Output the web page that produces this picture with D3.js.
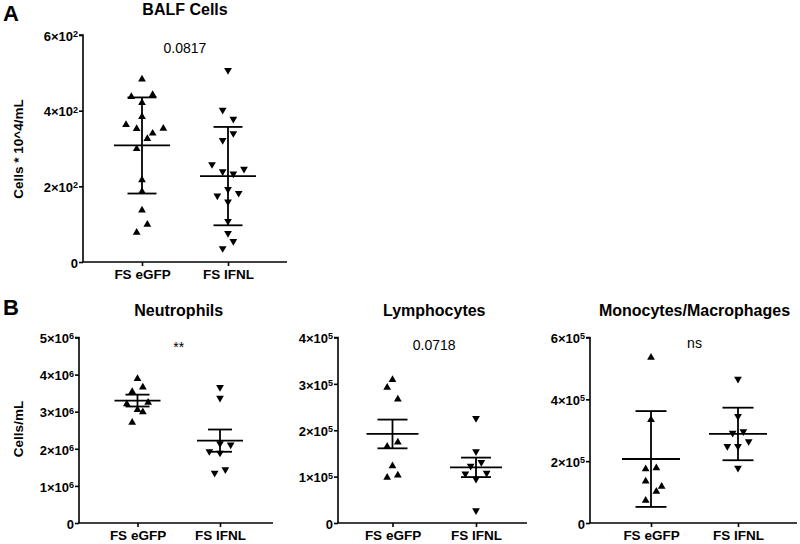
<!DOCTYPE html>
<html><head><meta charset="utf-8">
<script src="https://cdn.jsdelivr.net/npm/d3@7"></script>
<style>body{margin:0;background:#fff}svg{display:block}</style>
</head><body><svg id="c" width="800" height="544"></svg>
<script>
// ---------------- DATA ----------------
const categories = ["FS eGFP", "FS IFNL"];

// Panel A: BALF cells (cells * 10^4 / mL)
const balfEgfp = [483, 437, 442, 421, 384, 363, 352, 353, 340, 326, 299, 217, 186, 137, 99, 78];
const balfEgfpSlot = [0, -2, 2, 0, 0, -3, -1, 4, 2, 1, -1, 0, 0, 0, 1, -1];
const balfIfnl = [507, 402, 378, 340, 322, 258, 239, 233, 246, 192, 175, 182, 159, 108, 76, 55, 36];
const balfIfnlSlot = [0, -1, 1, 1, -1, -3, -1, 1, 3, 0, -2, 2, 0, 0, 0, 1, -1];
const balfMean = [308, 227];
const balfErr = [127, 130];
const balfTicks = [0, 200, 400, 600];

// Neutrophils (cells/mL)
const neutEgfp = [3.89e6, 3.66e6, 3.54e6, 3.21e6, 3.25e6, 3.05e6, 2.99e6, 2.71e6];
const neutEgfpSlot = [0, 1, -1, -2, 2, 0, 1, -1];
const neutIfnl = [3.66e6, 3.37e6, 2.11e6, 2.14e6, 1.93e6, 1.89e6, 1.35e6, 1.44e6];
const neutIfnlSlot = [0, 0, 2, 0, -2, 0, -1, 1];
const neutMean = [3.30e6, 2.22e6];
const neutErr = [0.16e6, 0.30e6];
const neutTicks = [0, 1e6, 2e6, 3e6, 4e6, 5e6];

// Lymphocytes (cells/mL)
const lymEgfp = [3.09e5, 2.92e5, 2.67e5, 1.65e5, 1.74e5, 1.23e5, 0.98e5, 1.03e5];
const lymEgfpSlot = [0, -1, 1, -1, 1, 0, -1, 1];
const lymIfnl = [2.26e5, 1.54e5, 1.31e5, 1.23e5, 1.06e5, 1.08e5, 0.95e5, 0.27e5];
const lymIfnlSlot = [0, 0, 1, -1, -2, 2, 0, 0];
const lymMean = [1.92e5, 1.20e5];
const lymErr = [0.31e5, 0.21e5];
const lymTicks = [0, 1e5, 2e5, 3e5, 4e5];

// Monocytes / Macrophages (cells/mL)
const monoEgfp = [5.35e5, 3.34e5, 1.75e5, 1.78e5, 1.35e5, 1.18e5, 1.02e5, 0.73e5];
const monoEgfpSlot = [0, 0, -1, 1, -1, 2, 1, -1];
const monoIfnl = [4.66e5, 3.45e5, 2.91e5, 2.96e5, 2.48e5, 2.48e5, 2.64e5, 1.78e5];
const monoIfnlSlot = [0, 0, -1, 1, -2, 0, 2, 0];
const monoMean = [2.07e5, 2.88e5];
const monoErr = [1.55e5, 0.85e5];
const monoTicks = [0, 2e5, 4e5, 6e5];

// ---------------- LAYOUT ----------------
const panels = [
  {title: "BALF Cells", sig: "0.0817", ylabel: "Cells * 10^4/mL", letter: "A",
   groups: [[balfEgfp, balfEgfpSlot], [balfIfnl, balfIfnlSlot]], mean: balfMean, err: balfErr, ticks: balfTicks,
   ax: 83, xEnd: 287, top: 35, bottom: 262, cx: [142, 228], mh: 28, ch: 14.5,
   titleY: 15, sigY: 53, labelX: 18, labelY: 149, letterY: 21},
  {title: "Neutrophils", sig: "**", ylabel: "Cells/mL", letter: "B",
   groups: [[neutEgfp, neutEgfpSlot], [neutIfnl, neutIfnlSlot]], mean: neutMean, err: neutErr, ticks: neutTicks,
   ax: 79, xEnd: 273, top: 337.5, bottom: 523, cx: [137.5, 220], mh: 23, ch: 12,
   titleY: 316, sigY: 352, labelX: 18, labelY: 429, letterY: 315},
  {title: "Lymphocytes", sig: "0.0718",
   groups: [[lymEgfp, lymEgfpSlot], [lymIfnl, lymIfnlSlot]], mean: lymMean, err: lymErr, ticks: lymTicks,
   ax: 338, xEnd: 527, top: 337.5, bottom: 523, cx: [392.5, 476], mh: 26, ch: 15,
   titleY: 316, sigY: 350},
  {title: "Monocytes/Macrophages", sig: "ns",
   groups: [[monoEgfp, monoEgfpSlot], [monoIfnl, monoIfnlSlot]], mean: monoMean, err: monoErr, ticks: monoTicks,
   ax: 590, xEnd: 797, top: 337.5, bottom: 523, cx: [651, 738], mh: 29, ch: 15.5,
   titleY: 316, sigY: 348}
];

const svg = d3.select("#c");
const FONT = "'Liberation Sans', Arial, Helvetica, sans-serif";
const SLOT = 5.33;

function tickParts(v) {
  if (v === 0) return null;
  const e = Math.floor(Math.log10(v) + 1e-9);
  const m = Math.round(v / Math.pow(10, e));
  return [m + "\u00d710", String(e)];
}

panels.forEach(p => {
  const g = svg.append("g");
  const y = d3.scaleLinear().domain([0, p.ticks[p.ticks.length - 1]]).range([p.bottom, p.top]);
  const x = d3.scalePoint().domain(categories).range(p.cx).padding(0);

  // y axis
  const yAxis = d3.axisLeft(y).tickValues(p.ticks).tickSize(4).tickFormat("");
  const ya = g.append("g").attr("transform", `translate(${p.ax},0)`).call(yAxis);
  ya.select(".domain").attr("d", `M-4,${p.top}H0V${p.bottom}`);
  ya.selectAll("path,line").attr("stroke", "#000").attr("stroke-width", 1.6);
  ya.selectAll(".tick").each(function(v) {
    const t = d3.select(this).append("text")
      .attr("x", -5).attr("dy", "0.4em").attr("text-anchor", "end")
      .attr("font-family", FONT).attr("font-weight", "bold").attr("font-size", 13)
      .attr("fill", "#000");
    const parts = tickParts(v);
    if (!parts) { t.text("0"); }
    else {
      t.append("tspan").text(parts[0]);
      t.append("tspan").attr("dy", "-0.42em").attr("font-size", 9).text(parts[1]);
    }
  });

  // x axis
  const xAxis = d3.axisBottom(x).tickSize(4).tickFormat("");
  const xa = g.append("g").attr("transform", `translate(0,${p.bottom})`).call(xAxis);
  xa.select(".domain").attr("d", `M${p.ax},0H${p.xEnd}`);
  xa.selectAll("path,line").attr("stroke", "#000").attr("stroke-width", 1.6);
  xa.selectAll(".tick").append("text")
    .attr("y", 17).attr("text-anchor", "middle")
    .attr("font-family", FONT).attr("font-weight", "bold").attr("font-size", 13.5)
    .attr("fill", "#000").text(d => d);

  // points
  p.groups.forEach((grp, gi) => {
    const [vals, slots] = grp;
    const cat = categories[gi];
    const sym = d3.symbol(d3.symbolTriangle, 26);
    g.append("g").selectAll("path").data(vals).join("path")
      .attr("d", sym)
      .attr("fill", "#000")
      .attr("transform", (d, i) => `translate(${x(cat) + slots[i] * SLOT},${y(d)})` + (gi === 1 ? " rotate(180)" : ""));
  });

  // mean and error bars
  categories.forEach((cat, gi) => {
    const cx = x(cat), m = p.mean[gi], e = p.err[gi];
    const eg = g.append("g").attr("stroke", "#000").attr("stroke-width", 1.8);
    eg.append("line").attr("x1", cx).attr("x2", cx).attr("y1", y(m + e)).attr("y2", y(m - e));
    eg.append("line").attr("x1", cx - p.mh).attr("x2", cx + p.mh).attr("y1", y(m)).attr("y2", y(m));
    eg.append("line").attr("x1", cx - p.ch).attr("x2", cx + p.ch).attr("y1", y(m + e)).attr("y2", y(m + e));
    eg.append("line").attr("x1", cx - p.ch).attr("x2", cx + p.ch).attr("y1", y(m - e)).attr("y2", y(m - e));
  });

  // title
  const midX = (p.cx[0] + p.cx[1]) / 2;
  g.append("text").attr("x", midX).attr("y", p.titleY).attr("text-anchor", "middle")
    .attr("font-family", FONT).attr("font-weight", "bold").attr("font-size", 16)
    .text(p.title);
  g.append("text").attr("x", midX).attr("y", p.sigY).attr("text-anchor", "middle")
    .attr("font-family", FONT).attr("font-size", 14)
    .text(p.sig);
  if (p.ylabel) {
    g.append("text").attr("transform", `translate(${p.labelX},${p.labelY}) rotate(-90)`)
      .attr("text-anchor", "middle").attr("dy", "0.35em")
      .attr("font-family", FONT).attr("font-weight", "bold").attr("font-size", 13.5)
      .text(p.ylabel);
  }
  if (p.letter) {
    g.append("text").attr("x", 3).attr("y", p.letterY)
      .attr("font-family", FONT).attr("font-weight", "bold").attr("font-size", 22)
      .text(p.letter);
  }
});
</script>
</body></html>
